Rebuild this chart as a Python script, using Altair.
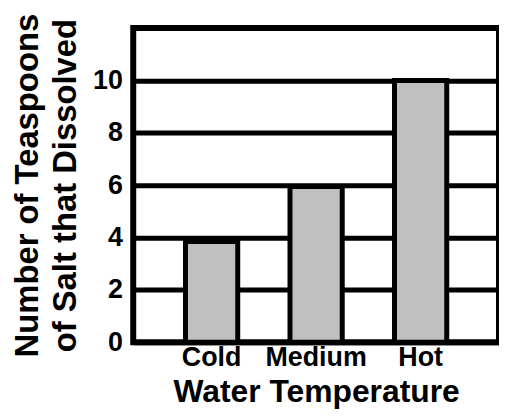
import altair as alt
import pandas as pd

categories = ["Cold", "Medium", "Hot"]
teaspoons = [3.85, 5.95, 10]
y_ticks = [0, 2, 4, 6, 8, 10]

df = pd.DataFrame({"temp": categories, "tsp": teaspoons})

FONT = "Liberation Sans"

chart = alt.Chart(df).mark_bar(
    color="#c0c0c0", stroke="black", strokeWidth=5
).encode(
    x=alt.X("temp:N", sort=categories,
            scale=alt.Scale(paddingInner=0.5, paddingOuter=0.5),
            axis=alt.Axis(title="Water Temperature", labelAngle=0,
                          labelFont=FONT, labelFontSize=27, labelFontWeight="bold",
                          labelColor="black", labelPadding=2,
                          titleFont=FONT, titleFontSize=32, titleFontWeight="bold",
                          titleColor="black", titleBaseline="alphabetic",
                          titleY=60,
                          ticks=False, domain=False, grid=False)),
    y=alt.Y("tsp:Q", scale=alt.Scale(domain=[0, 12], nice=False),
            axis=alt.Axis(title=["Number of Teaspoons", "of Salt that Dissolved"],
                          values=y_ticks,
                          labelFont=FONT, labelFontSize=27, labelFontWeight="bold",
                          labelColor="black", labelPadding=11,
                          titleFont=FONT, titleFontSize=33, titleFontWeight="bold",
                          titleColor="black", titlePadding=10, titleLineHeight=38,
                          ticks=False, domain=False,
                          grid=True, gridColor="black", gridWidth=5, gridOpacity=1)),
).properties(
    width=368, height=316,
    padding={"left": 126, "top": 19, "right": 0, "bottom": 67},
    autosize=alt.AutoSizeParams(type="none"),
).configure_view(
    stroke="black", strokeWidth=6
)

chart.save("out.html", embed_options={"renderer": "svg", "actions": False})
